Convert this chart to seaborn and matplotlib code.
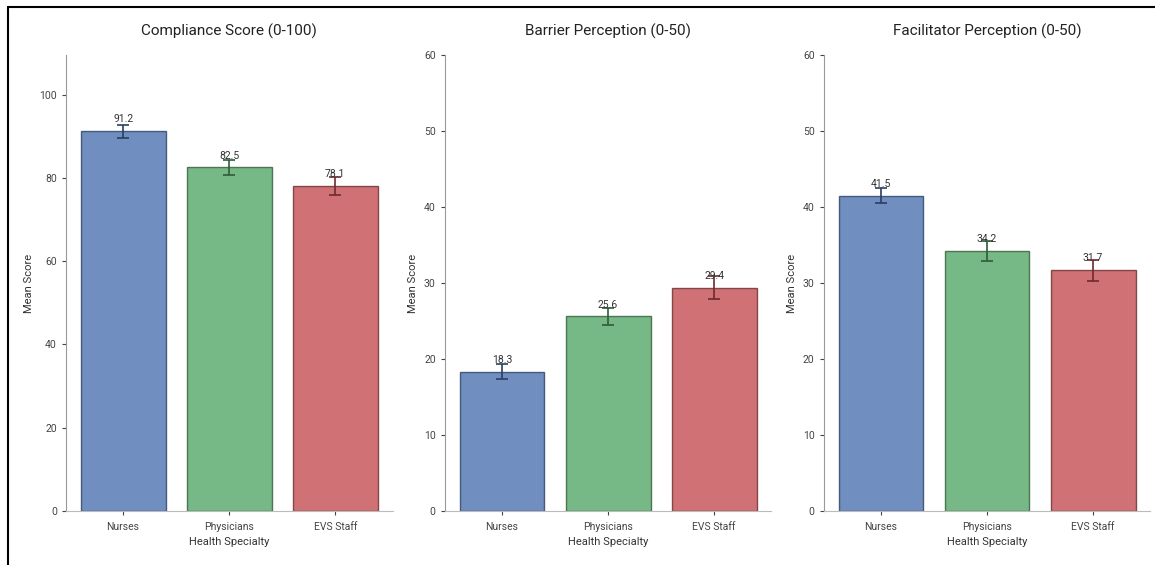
import pandas as pd
import seaborn as sns
from matplotlib import pyplot as plt
from matplotlib.lines import Line2D

specialties = ['Nurses', 'Physicians', 'EVS Staff']

compliance_mean = [91.2, 82.5, 78.1]
compliance_err = [1.5, 1.7, 2.1]
barrier_mean = [18.3, 25.6, 29.4]
barrier_err = [1.0, 1.1, 1.5]
facilitator_mean = [41.5, 34.2, 31.7]
facilitator_err = [1.0, 1.3, 1.4]

titles = ['Compliance Score (0-100)', 'Barrier Perception (0-50)', 'Facilitator Perception (0-50)']

sns.set_style('ticks')
plt.rcParams['font.family'] = ['Roboto', 'DejaVu Sans']

deep = sns.color_palette('deep')
colors = [deep[0], deep[2], deep[3]]
edge_colors = [tuple(c * 0.55 for c in col) for col in colors]

fig, axes = plt.subplots(1, 3, figsize=(11.55, 5.65), dpi=100)
fig.subplots_adjust(left=0.057, right=0.996, bottom=0.096, top=0.902, wspace=0.16)

panels = [
    (compliance_mean, compliance_err, max(compliance_mean) * 1.2),
    (barrier_mean, barrier_err, 60),
    (facilitator_mean, facilitator_err, 60),
]

for ax, (means, errs, top), title in zip(axes, panels, titles):
    df = pd.DataFrame({'Health Specialty': specialties, 'Mean Score': means})
    sns.barplot(data=df, x='Health Specialty', y='Mean Score', hue='Health Specialty',
                palette=colors, saturation=1, alpha=0.8, errorbar=None, legend=False,
                ax=ax, linewidth=1)
    for patch, ec in zip(ax.patches, edge_colors):
        patch.set_edgecolor(ec)
    for i, (m, e) in enumerate(zip(means, errs)):
        ax.errorbar(i, m, yerr=e, color=edge_colors[i], capsize=4, elinewidth=1.2, capthick=1.2)
        ax.annotate(f'{m:.1f}', (i, m), xytext=(0, 5), textcoords='offset points',
                    ha='center', va='bottom', fontsize=7.5, color='#333333')
    ax.set_ylim(0, top)
    ax.set_title(title, fontsize=11, pad=14, color='#222222')
    ax.set_xlabel('Health Specialty', fontsize=8, color='#333333', labelpad=4)
    ax.set_ylabel('Mean Score', fontsize=8, color='#333333')
    ax.tick_params(labelsize=7.5, colors='#444444', length=3)
    ax.tick_params(axis='x', pad=5)
    sns.despine(ax=ax)
    ax.spines['left'].set_color('#999999')
    ax.spines['bottom'].set_color('#bbbbbb')

# screenshot frame on left and top
fig.add_artist(Line2D([0.007, 0.007], [0.0, 0.988], color='black', linewidth=1.5, transform=fig.transFigure))
fig.add_artist(Line2D([0.007, 1.0], [0.988, 0.988], color='black', linewidth=1.5, transform=fig.transFigure))

fig.savefig('out.png', dpi=100)
